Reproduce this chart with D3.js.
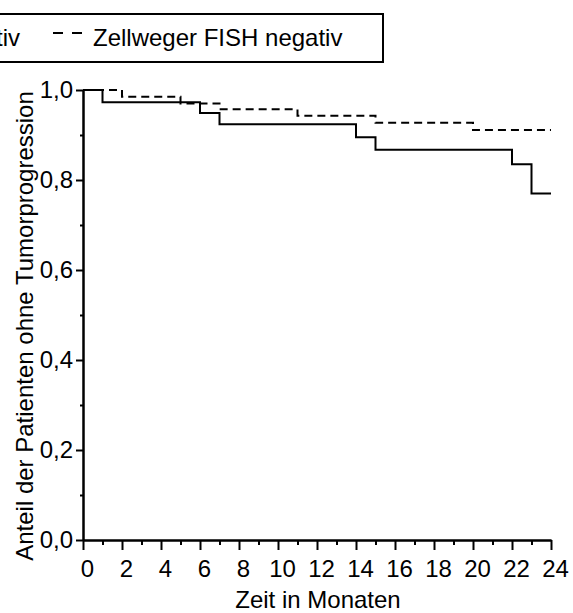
<!DOCTYPE html>
<meta charset="utf-8">
<style>
	body { margin: 0; background: #fff; }
	svg { display: block; font-family: "Liberation Sans", Arial, sans-serif; }
	.axis path, .axis line { stroke: #000; stroke-width: 2; }
	.axis text { fill: #000; }
</style>
<svg width="573" height="613"></svg>
<script src="https://d3js.org/d3.v7.min.js"></script>
<script type="text/javascript">
	// Kaplan-Meier curves, values
	var seriesNames = ["Zellweger FISH positiv", "Zellweger FISH negativ"];
	var posMonths = [0, 1, 6, 7, 14, 15, 22, 23, 24];
	var posSurv   = [1.0, 0.973, 0.949, 0.924, 0.895, 0.867, 0.835, 0.770, 0.770];
	var negMonths = [0, 2, 5, 7, 11, 15, 20, 24];
	var negSurv   = [1.0, 0.985, 0.970, 0.957, 0.943, 0.927, 0.911, 0.911];
	var xTicks = d3.range(0, 25, 2);
	var xMinor = d3.range(1, 24, 2);
	var yTicks = [0, 0.2, 0.4, 0.6, 0.8, 1.0];
	var yMinor = [0.1, 0.3, 0.5, 0.7, 0.9];

	var svg = d3.select("svg"),
		width = +svg.attr("width"),
		height = +svg.attr("height");

	var x = d3.scaleLinear().domain([0, 24]).range([83, 551]);
	var y = d3.scaleLinear().domain([0, 1]).range([540, 90]);

	var de = d3.formatLocale({decimal: ",", thousands: ".", grouping: [3], currency: ["", " €"]});
	var fmt = de.format(".1f");

	// minor ticks first so the major axis lines sit on top
	svg.append("g").attr("class", "axis").attr("transform", "translate(0,540)")
		.call(d3.axisBottom(x).tickValues(xMinor).tickSize(5).tickSizeOuter(0).tickFormat(""));
	svg.append("g").attr("class", "axis").attr("transform", "translate(83,0)")
		.call(d3.axisLeft(y).tickValues(yMinor).tickSize(3).tickSizeOuter(0).tickFormat(""));

	var gx = svg.append("g").attr("class", "axis").attr("transform", "translate(0,540)")
		.call(d3.axisBottom(x).tickValues(xTicks).tickSize(10).tickPadding(10).tickSizeOuter(0));
	gx.selectAll("text").style("font-size", "24px").attr("dx", 4);

	var gy = svg.append("g").attr("class", "axis").attr("transform", "translate(83,0)")
		.call(d3.axisLeft(y).tickValues(yTicks).tickSize(7).tickPadding(3).tickFormat(fmt).tickSizeOuter(0));
	gy.selectAll("text").style("font-size", "24px");

	svg.append("text").attr("x", 318).attr("y", 608).attr("text-anchor", "middle")
		.style("font-size", "24px").text("Zeit in Monaten");
	svg.append("text").attr("transform", "translate(33,326) rotate(-90)").attr("text-anchor", "middle")
		.style("font-size", "24px").text("Anteil der Patienten ohne Tumorprogression");

	var line = d3.line().curve(d3.curveStepAfter)
		.x(function(d){ return x(d[0]); })
		.y(function(d){ return y(d[1]); });

	var series = [
		{name: seriesNames[0], pts: d3.zip(posMonths, posSurv), dash: null},
		{name: seriesNames[1], pts: d3.zip(negMonths, negSurv), dash: "8,5"}
	];

	svg.selectAll("path.km").data(series).enter().append("path")
		.attr("class", "km")
		.attr("fill", "none").attr("stroke", "#000").attr("stroke-width", 2)
		.attr("stroke-dasharray", function(d){ return d.dash; })
		.attr("d", function(d){ return line(d.pts); });

	// legend (runs off the left edge like the original)
	var lg = svg.append("g");
	lg.append("rect").attr("x", -320).attr("y", 14).attr("width", 703).attr("height", 48)
		.attr("fill", "#fff").attr("stroke", "#000").attr("stroke-width", 2);

	var t2 = lg.append("text").attr("x", 93).attr("y", 46).style("font-size", "24px").text(seriesNames[1]);
	lg.append("line").attr("x1", 53).attr("x2", 82).attr("y1", 33).attr("y2", 33)
		.attr("stroke", "#000").attr("stroke-width", 2).attr("stroke-dasharray", "10,9");

	var t1 = lg.append("text").attr("x", 20).attr("y", 46).attr("text-anchor", "end")
		.style("font-size", "24px").text(seriesNames[0]);
	var w1 = t1.node().getComputedTextLength();
	lg.append("line").attr("x1", 20 - w1 - 40).attr("x2", 20 - w1 - 11).attr("y1", 33).attr("y2", 33)
		.attr("stroke", "#000").attr("stroke-width", 2);
</script>
